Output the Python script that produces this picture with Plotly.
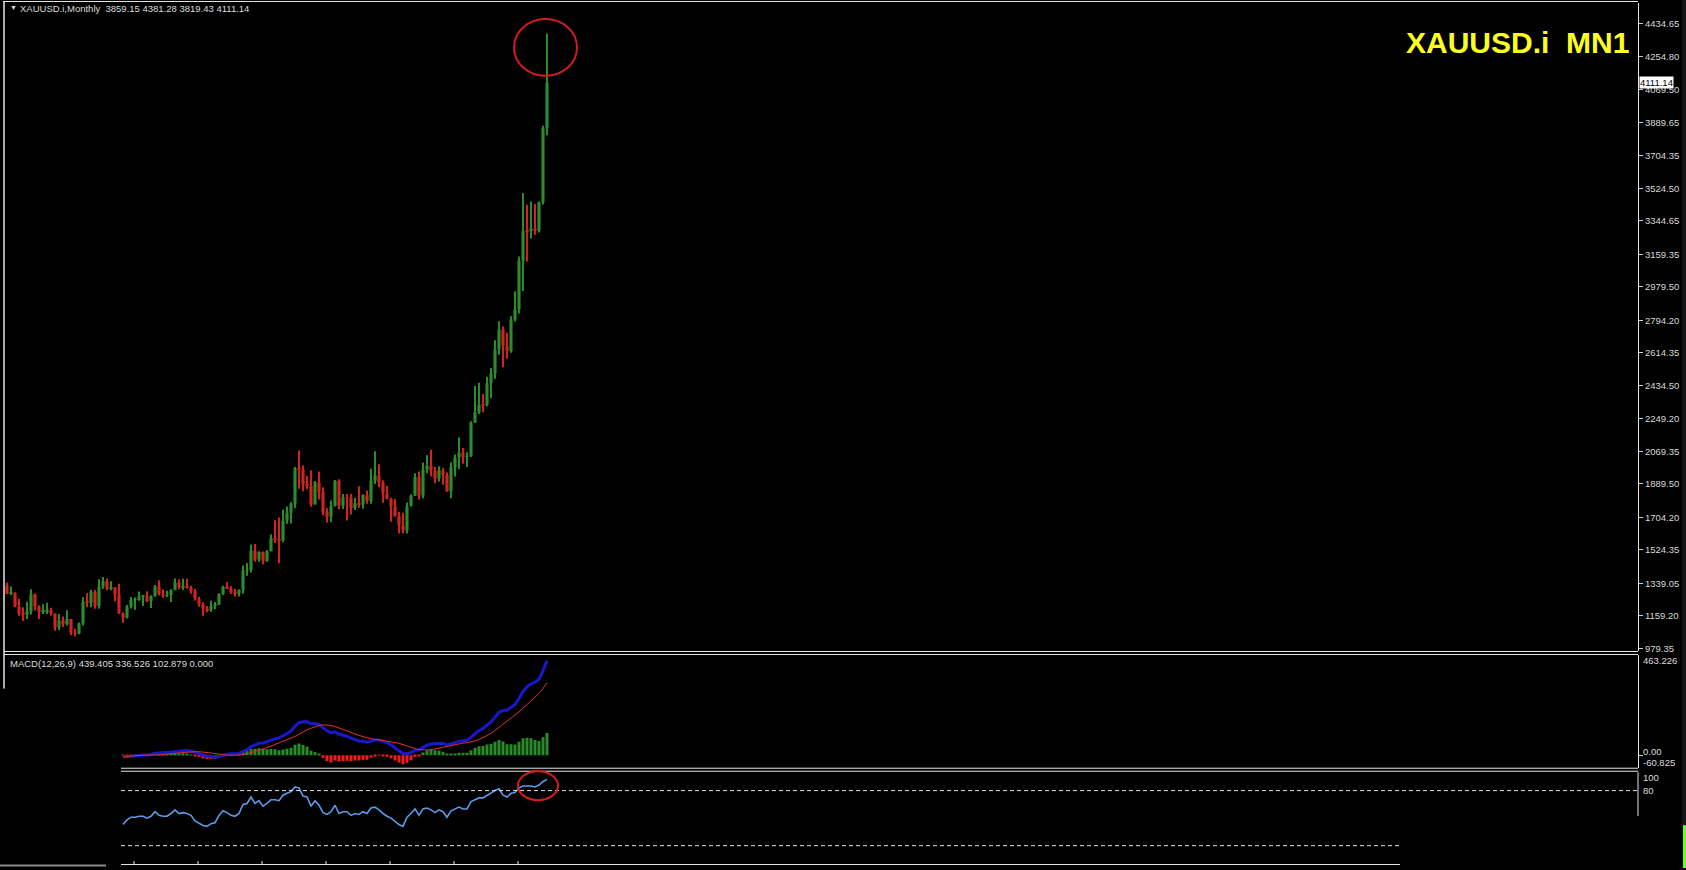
import plotly.graph_objects as go

W, H = 1686, 870
def px(x): return x / W
def py(y): return 1 - y / H

# ---- data (monthly XAUUSD.i candles, Jul 2014 .. Oct 2025) ----
months = (["2014-%02d" % m for m in range(7, 13)] +
          ["%d-%02d" % (y, m) for y in range(2015, 2025) for m in range(1, 13)] +
          ["2025-%02d" % m for m in range(1, 11)])

opens = [1327,1282,1287,1210,1171,1167,
 1184,1279,1213,1183,1184,1190,1172,1095,1134,1115,1142,1065,
 1061,1118,1238,1232,1292,1215,1322,1351,1309,1316,1277,1173,
 1151,1210,1248,1249,1268,1268,1242,1269,1322,1280,1271,1275,
 1303,1345,1318,1325,1315,1298,1253,1224,1201,1191,1215,1222,
 1282,1321,1313,1292,1283,1305,1409,1413,1520,1472,1513,1464,
 1517,1589,1585,1577,1686,1730,1781,1975,1968,1886,1879,1776,
 1898,1847,1734,1708,1769,1907,1770,1814,1813,1757,1783,1775,
 1829,1796,1909,1937,1897,1837,1807,1766,1711,1660,1633,1768,
 1824,1928,1826,1969,1990,1963,1919,1965,1940,1849,1983,2036,
 2063,2039,2044,2229,2286,2327,2326,2447,2503,2634,2743,2654,
 2624,2798,2857,3124,3288,3289,3303,3290,3448,3859.15]
highs = [1345,1322,1290,1255,1207,1238,
 1307,1283,1219,1224,1232,1205,1174,1170,1157,1191,1142,1088,
 1123,1263,1287,1304,1303,1362,1375,1367,1352,1318,1337,1180,
 1220,1264,1262,1295,1271,1296,1274,1331,1357,1306,1299,1307,
 1366,1362,1365,1365,1326,1309,1266,1235,1214,1243,1237,1284,
 1326,1347,1324,1310,1306,1439,1452,1555,1557,1517,1516,1524,
 1611,1689,1704,1747,1765,1789,1984,2075,1992,1933,1965,1906,
 1959,1871,1755,1798,1912,1916,1834,1834,1834,1813,1877,1831,
 1853,1974,2070,1998,1910,1879,1814,1807,1735,1730,1787,1833,
 1949,1959,2009,2048,2079,1983,1987,1978,1953,2009,2052,2146,
 2088,2065,2236,2431,2450,2387,2483,2531,2685,2790,2761,2726,
 2817,2956,3148,3500,3435,3452,3439,3452,3871,4381.28]
lows = [1281,1274,1207,1161,1131,1142,
 1167,1190,1142,1170,1170,1162,1077,1080,1098,1107,1052,1046,
 1058,1107,1208,1208,1199,1199,1310,1301,1302,1241,1171,1122,
 1146,1200,1194,1243,1214,1236,1204,1266,1272,1260,1264,1236,
 1302,1307,1303,1310,1282,1245,1211,1160,1180,1182,1196,1221,
 1276,1311,1281,1266,1267,1282,1382,1400,1459,1459,1445,1459,
 1517,1563,1451,1567,1670,1671,1757,1863,1849,1860,1764,1776,
 1803,1717,1677,1678,1765,1750,1751,1687,1721,1746,1758,1753,
 1780,1780,1890,1872,1786,1805,1681,1709,1615,1617,1616,1765,
 1823,1804,1810,1949,1932,1893,1903,1885,1846,1810,1931,1973,
 2002,1984,2039,2228,2277,2286,2318,2364,2472,2604,2536,2583,
 2615,2789,2833,2957,3121,3247,3268,3281,3436,3819.43]
closes = [1282,1287,1210,1171,1167,1184,
 1279,1213,1183,1184,1190,1172,1095,1134,1115,1142,1065,1061,
 1118,1238,1232,1292,1215,1322,1351,1309,1316,1277,1173,1151,
 1210,1248,1249,1268,1268,1242,1269,1322,1280,1271,1275,1303,
 1345,1318,1325,1315,1298,1253,1224,1201,1191,1215,1222,1282,
 1321,1313,1292,1283,1305,1409,1413,1520,1472,1513,1464,1517,
 1589,1585,1577,1686,1730,1781,1975,1968,1886,1879,1776,1898,
 1847,1734,1708,1769,1907,1770,1814,1813,1757,1783,1775,1829,
 1796,1909,1937,1897,1837,1807,1766,1711,1660,1633,1768,1824,
 1928,1826,1969,1990,1963,1919,1965,1940,1849,1983,2036,2063,
 2039,2044,2229,2286,2327,2326,2447,2503,2634,2743,2654,2624,
 2798,2857,3124,3288,3286,3303,3290,3448,3858,4111.14]

# indicator panes (visible part starts at Dec 2016)
ind_start = 29
macd_main = [-7,-8,-6,-4,-1,1,1,3,9,10,10,10,13,17,19,21,21,19,14,8,1,-5,-8,-10,-6,0,4,6,6,8,
 18,25,40,47,55,57,62,71,77,80,90,101,112,135,151,155,156,146,147,142,128,113,104,108,98,93,
 88,79,73,66,65,60,65,70,70,65,58,48,35,21,7,7,12,23,24,36,46,52,52,55,55,47,51,58,64,67,69,
 84,100,114,124,140,155,176,199,207,209,223,235,263,296,317,332,339,353,393,439.405]
macd_signal = [-9,-6,-3,-2,-1,-1,-2,-2,-1,1,3,4,6,8,10,12,14,16,16,16,15,13,10,7,4,2,0,-1,-1,-1,
 2,6,11,17,23,29,35,42,50,57,64,71,78,87,97,108,117,125,132,138,141,141,138,133,127,120,114,
 106,98,91,86,81,76,73,71,68,66,63,60,55,49,42,36,31,26,24,24,25,29,34,39,43,46,50,53,56,58,
 61,66,73,81,91,102,114,129,144,158,172,185,201,218,236,253,269,287,310,336.526]
rsi = [43,48,51,51,52,52,50,52,57,53,52,52,55,59,55,56,55,53,47,44,42,41,44,45,53,58,56,53,52,55,
 65,66,73,66,69,63,66,70,70,69,75,77,79,84,83,74,73,63,69,64,56,54,57,64,55,57,57,53,55,54,57,
 55,61,62,59,55,52,50,46,43,41,51,55,60,53,60,61,59,56,59,57,51,58,60,62,60,60,68,70,72,72,75,
 77,80,82,75,73,77,78,83,85,85,85,84,86,90,92]

price_ticks = [4434.65, 4254.80, 4069.50, 3889.65, 3704.35, 3524.50, 3344.65, 3159.35, 2979.50,
               2794.20, 2614.35, 2434.50, 2249.20, 2069.35, 1889.50, 1704.20, 1524.35, 1339.05,
               1159.20, 979.35]

mx = months[ind_start:ind_start + len(rsi)]

fig = go.Figure()
up, dn = '#2b8c2b', '#d22222'
cols = [up if c >= o else dn for o, c in zip(opens, closes)]
fig.add_trace(go.Bar(x=months, y=[h - lo for h, lo in zip(highs, lows)], base=lows, width=0.25,
                     marker=dict(color=cols, line=dict(width=0)), hoverinfo='skip'))
fig.add_trace(go.Bar(x=months, y=[max(abs(c - o), 4) for o, c in zip(opens, closes)],
                     base=[min(o, c) for o, c in zip(opens, closes)], width=0.78,
                     marker=dict(color=cols, line=dict(width=0)), hoverinfo='skip'))
hist = [m - s for m, s in zip(macd_main, macd_signal)]
fig.add_trace(go.Bar(x=mx, y=hist, width=0.75, xaxis='x2', yaxis='y2',
                     marker=dict(color=['#2a8a2a' if v >= 0 else '#f01c1c' for v in hist],
                                 line=dict(width=0))))
fig.add_trace(go.Scatter(x=mx, y=macd_main, mode='lines', xaxis='x2', yaxis='y2',
                         line=dict(color='#1818cc', width=3)))
fig.add_trace(go.Scatter(x=mx, y=macd_signal, mode='lines', xaxis='x2', yaxis='y2',
                         line=dict(color='#e03030', width=1)))
fig.add_trace(go.Scatter(x=mx, y=rsi, mode='lines', xaxis='x3', yaxis='y3',
                         line=dict(color='#5b9be6', width=1.6)))

FONT = 'Liberation Sans'
LC = '#e6e6e6'
dom = [px(5), px(1638)]
xr = [-0.5, 407.75]
fig.update_layout(
    width=W, height=H, margin=dict(l=0, r=0, t=0, b=0), paper_bgcolor='#000', plot_bgcolor='#000',
    barmode='overlay', showlegend=False,
    xaxis=dict(type='category', domain=dom, range=xr, visible=False, anchor='y'),
    xaxis2=dict(type='category', domain=dom, range=xr, visible=False, anchor='y2', matches='x'),
    xaxis3=dict(type='category', domain=dom, range=xr, visible=False, anchor='y3', matches='x'),
    yaxis=dict(domain=[py(653), py(3)], range=[962.8, 4550.5], side='right', anchor='x',
               tickvals=price_ticks, ticktext=['%.2f' % v for v in price_ticks],
               ticks='outside', ticklen=4, tickcolor='#cfcfcf',
               tickfont=dict(family=FONT, size=9.5, color='#d8d8d8'),
               showgrid=False, zeroline=False, showline=True, linecolor=LC, linewidth=1),
    yaxis2=dict(domain=[py(770), py(657)], range=[-60.825, 463.226], side='right', anchor='x2',
                tickvals=[0], ticks='outside', ticklen=4, tickcolor='#cfcfcf', showticklabels=False,
                showgrid=False, zeroline=False, showline=True, linecolor=LC, linewidth=1),
    yaxis3=dict(domain=[py(866), py(774)], range=[0, 100], side='right', anchor='x3', visible=False))

def hline(x0, x1, y, color=LC, w=1):
    return dict(type='line', xref='paper', yref='paper', x0=px(x0), x1=px(x1), y0=py(y), y1=py(y),
                line=dict(color=color, width=w))
def vline(x, y0, y1, color=LC, w=1):
    return dict(type='line', xref='paper', yref='paper', x0=px(x), x1=px(x), y0=py(y0), y1=py(y1),
                line=dict(color=color, width=w))
shapes = [hline(3, 1638, 1.5), vline(4, 1, 690, w=1.5),
          hline(4, 1638, 653), hline(4, 1638, 656),
          hline(121, 1638, 770), hline(121, 1638, 773),
          vline(1638, 774, 818), hline(121, 1400, 866.5),
          hline(0, 106, 867.5, color='#8a8a8a', w=2),
          dict(type='line', xref='paper', yref='y3', x0=px(121), x1=px(1637), y0=80, y1=80,
               line=dict(color='#e0e0e0', width=1, dash='4px,3px')),
          dict(type='line', xref='paper', yref='y3', x0=px(121), x1=px(1400), y0=20, y1=20,
               line=dict(color='#e0e0e0', width=1, dash='4px,3px')),
          dict(type='circle', xref='paper', yref='paper', x0=px(514), x1=px(577), y0=py(76), y1=py(19),
               line=dict(color='#d41c1c', width=2)),
          dict(type='circle', xref='paper', yref='paper', x0=px(518), x1=px(558), y0=py(802), y1=py(773),
               line=dict(color='#d41c1c', width=2)),
          dict(type='rect', xref='paper', yref='paper', x0=px(1682), x1=1, y0=0, y1=1,
               fillcolor='#151515', line=dict(width=0)),
          dict(type='rect', xref='paper', yref='paper', x0=px(1683), x1=1, y0=0, y1=py(827),
               fillcolor='#66ff22', line=dict(width=0))]
for k in range(7):
    shapes.append(vline(134 + 64 * k, 863, 867))
fig.update_layout(shapes=shapes)

def ann(x, y, text, size=9.5, color='#dcdcdc', xanchor='left'):
    return dict(xref='paper', yref='paper', x=px(x), y=py(y), text=text, showarrow=False,
                xanchor=xanchor, yanchor='middle', font=dict(family=FONT, size=size, color=color))
anns = [ann(8, 8, '\u25bc', size=7),
        ann(18, 9, 'XAUUSD.i,Monthly\u00a0\u00a03859.15 4381.28 3819.43 4111.14'),
        ann(1631, 43, '<b>XAUUSD.i\u00a0\u00a0MN1</b>', size=30, color='#ffff1e', xanchor='right'),
        ann(8, 665, 'MACD(12,26,9) 439.405 336.526 102.879 0.000'),
        ann(1641, 662, '463.226'), ann(1641, 753, '0.00'), ann(1641, 764, '-60.825'),
        ann(1641, 779, '100'), ann(1641, 792, '80'),
        dict(xref='paper', yref='y', x=px(1639), y=closes[-1], text='%.2f' % closes[-1], showarrow=False,
             xanchor='left', yanchor='middle', bgcolor='#ffffff', borderpad=0,
             font=dict(family=FONT, size=9.5, color='#000000'))]
fig.update_layout(annotations=anns)

fig.write_html("out.html", config={'displayModeBar': False},
               post_script="document.body.style.margin='0';document.body.style.background='#000';")
